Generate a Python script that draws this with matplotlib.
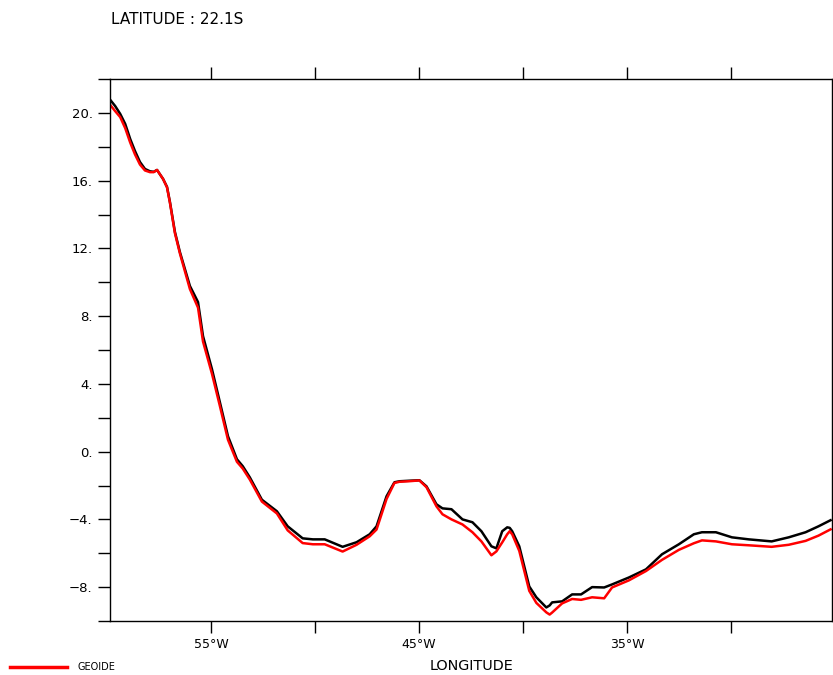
import matplotlib
matplotlib.use('Agg')
import matplotlib.pyplot as plt
from matplotlib.lines import Line2D

# Longitude (degrees east, negative = W) and the two profiles
lon = [-59.84, -59.6, -59.36, -59.12, -58.88, -58.65, -58.41, -58.17, -57.93, -57.75,
       -57.59, -57.30, -57.11, -56.97, -56.73, -56.49, -56.25, -56.01, -55.62, -55.38,
       -54.95, -54.57, -54.18, -53.75, -53.47, -53.13, -52.55, -51.83, -51.31, -50.59,
       -50.1, -49.53, -48.67, -48.00, -47.37, -47.04, -46.56, -46.18, -45.94, -45.5,
       -44.98, -44.64, -44.16, -43.87, -43.44, -42.91, -42.43, -42.00, -41.52, -41.28,
       -41.00, -40.76, -40.64, -40.52, -40.18, -39.70, -39.36, -38.88, -38.72, -38.60,
       -38.12, -37.64, -37.21, -36.68, -36.10, -35.72, -34.91, -34.09, -33.32, -32.51,
       -31.79, -31.40, -30.73, -29.96, -29.15, -28.05, -27.23, -26.42, -25.80, -25.22]

black = [20.77, 20.40, 19.94, 19.35, 18.46, 17.75, 17.10, 16.69, 16.55, 16.52,
         16.63, 16.10, 15.63, 14.74, 12.97, 11.78, 10.78, 9.78, 8.83, 6.82,
         4.87, 2.92, 0.91, -0.45, -0.86, -1.52, -2.84, -3.52, -4.41, -5.12,
         -5.18, -5.18, -5.62, -5.35, -4.88, -4.41, -2.64, -1.81, -1.75, -1.72,
         -1.69, -2.05, -3.11, -3.35, -3.40, -4.00, -4.17, -4.70, -5.59, -5.71,
         -4.70, -4.47, -4.50, -4.70, -5.59, -7.96, -8.60, -9.20, -9.08, -8.90,
         -8.84, -8.43, -8.43, -8.00, -8.02, -7.84, -7.43, -6.95, -6.06, -5.47,
         -4.88, -4.76, -4.76, -5.06, -5.18, -5.30, -5.06, -4.76, -4.41, -4.05]

geoide = [20.47, 20.10, 19.75, 19.10, 18.25, 17.55, 16.95, 16.60, 16.50, 16.50,
          16.63, 16.10, 15.60, 14.70, 12.90, 11.70, 10.65, 9.60, 8.50, 6.50,
          4.60, 2.70, 0.70, -0.60, -1.00, -1.65, -2.95, -3.65, -4.65, -5.40,
          -5.47, -5.47, -5.90, -5.50, -5.00, -4.60, -2.80, -1.85, -1.78, -1.75,
          -1.70, -2.10, -3.23, -3.70, -4.00, -4.30, -4.76, -5.30, -6.12, -5.89,
          -5.36, -4.88, -4.70, -4.88, -5.86, -8.22, -8.93, -9.49, -9.62, -9.50,
          -8.96, -8.70, -8.75, -8.60, -8.66, -8.02, -7.60, -7.05, -6.39, -5.80,
          -5.41, -5.24, -5.30, -5.47, -5.53, -5.62, -5.50, -5.27, -4.96, -4.59]

xticks = [-55, -50, -45, -40, -35, -30]
xlabels = ['55°W', '', '45°W', '', '35°W', '']
yticks = list(range(-10, 23, 2))
ylabels = [(f'{v}.'.replace('-', '\u2212') if v % 4 == 0 and -8 <= v <= 20 else '') for v in yticks]

fig = plt.figure(figsize=(8.33, 6.75), dpi=100)
ax = fig.add_axes([110 / 833, 54 / 675, 722 / 833, 542 / 675])

ax.plot(lon, black, color='black', linewidth=1.8)
ax.plot(lon, geoide, color='red', linewidth=1.8)

ax.set_xlim(-59.85, -25.15)
ax.set_ylim(-10, 22)

ax.set_xticks(xticks)
ax.set_xticklabels(xlabels, fontsize=9)
ax.set_yticks(yticks)
ax.set_yticklabels(ylabels, fontsize=9.5)
ax.tick_params(axis='x', direction='out', length=8.5, width=1, top=True, pad=4)
ax.tick_params(axis='y', direction='out', length=8.5, width=1, pad=4)
for s in ax.spines.values():
    s.set_linewidth(1)

fig.text(471 / 833, 1 - 666 / 675, 'LONGITUDE', ha='center', va='center', fontsize=10.4)
fig.text(111 / 833, 1 - 20 / 675, 'LATITUDE : 22.1S', ha='left', va='center', fontsize=11)

# legend entry at bottom-left
fig.lines.append(Line2D([10 / 833, 67 / 833], [1 - 667 / 675, 1 - 667 / 675],
                        color='red', linewidth=2.5, transform=fig.transFigure))
fig.text(77 / 833, 1 - 667 / 675, 'GEOIDE', ha='left', va='center', fontsize=7)

fig.savefig('out.png', dpi=100)
